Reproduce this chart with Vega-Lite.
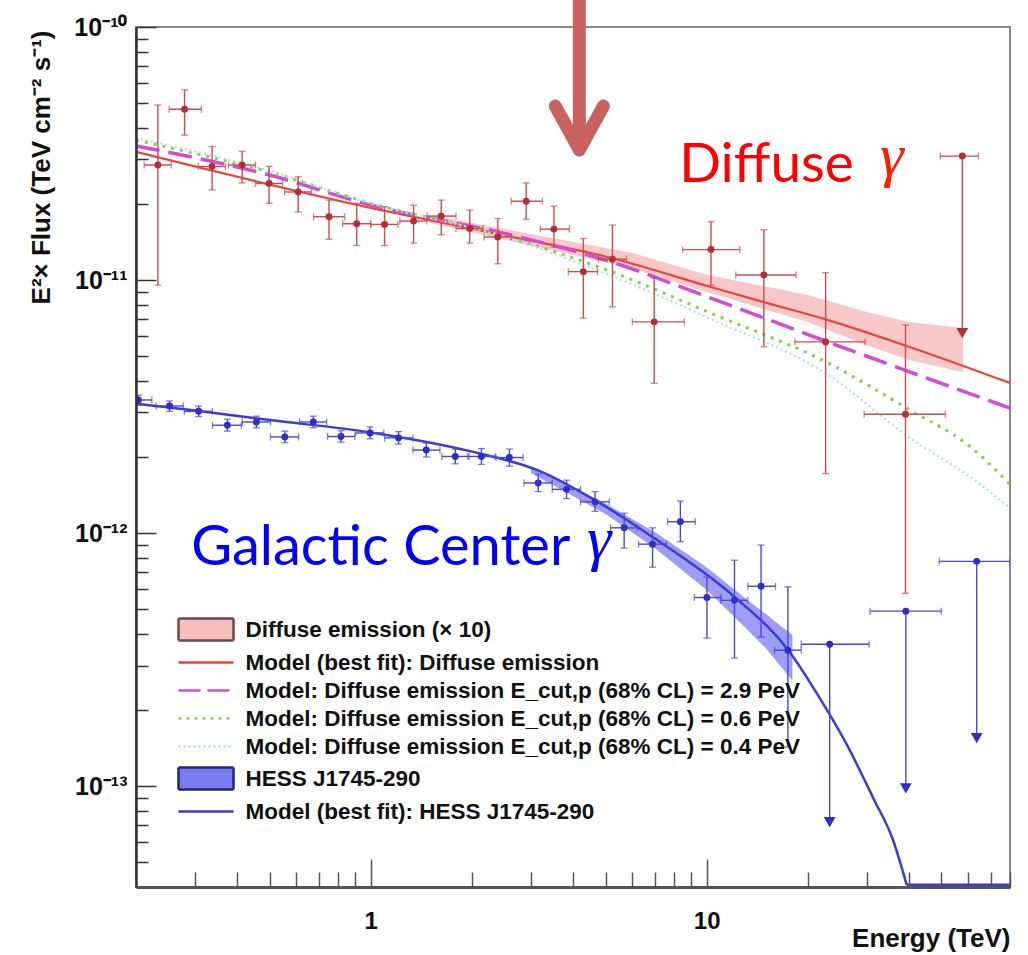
{
  "$schema": "https://vega.github.io/schema/vega-lite/v6.json",
  "width": 874,
  "height": 860,
  "autosize": {"type": "none"},
  "padding": {"left": 136, "top": 27, "right": 18, "bottom": 68},
  "background": "white",
  "config": {
    "view": {"stroke": "#8a8a8a", "strokeWidth": 2},
    "axis": {"grid": false},
    "font": "Liberation Sans"
  },
  "datasets": {
    "pts": [
      {"s": "d", "E": 0.2324, "El": 0.2115, "Eh": 0.2547, "F": 2.85e-11, "Fl": 9.55e-12, "Fh": 4.92e-11, "ul": false},
      {"s": "d", "E": 0.279, "El": 0.251, "Eh": 0.313, "F": 4.73e-11, "Fl": 3.74e-11, "Fh": 5.64e-11, "ul": false},
      {"s": "d", "E": 0.337, "El": 0.3066, "Eh": 0.369, "F": 2.81e-11, "Fl": 2.27e-11, "Fh": 3.37e-11, "ul": false},
      {"s": "d", "E": 0.414, "El": 0.3768, "Eh": 0.4537, "F": 2.85e-11, "Fl": 2.42e-11, "Fh": 3.23e-11, "ul": false},
      {"s": "d", "E": 0.498, "El": 0.4537, "Eh": 0.546, "F": 2.41e-11, "Fl": 2.01e-11, "Fh": 2.81e-11, "ul": false},
      {"s": "d", "E": 0.608, "El": 0.5538, "Eh": 0.6667, "F": 2.23e-11, "Fl": 1.86e-11, "Fh": 2.56e-11, "ul": false},
      {"s": "d", "E": 0.751, "El": 0.676, "Eh": 0.8364, "F": 1.78e-11, "Fl": 1.45e-11, "Fh": 2.07e-11, "ul": false},
      {"s": "d", "E": 0.908, "El": 0.825, "Eh": 1.0, "F": 1.67e-11, "Fl": 1.37e-11, "Fh": 2.01e-11, "ul": false},
      {"s": "d", "E": 1.099, "El": 1.0, "Eh": 1.204, "F": 1.66e-11, "Fl": 1.37e-11, "Fh": 1.95e-11, "ul": false},
      {"s": "d", "E": 1.341, "El": 1.22, "Eh": 1.47, "F": 1.71e-11, "Fl": 1.4e-11, "Fh": 1.98e-11, "ul": false},
      {"s": "d", "E": 1.621, "El": 1.47, "Eh": 1.794, "F": 1.79e-11, "Fl": 1.51e-11, "Fh": 2.07e-11, "ul": false},
      {"s": "d", "E": 1.97, "El": 1.794, "Eh": 2.16, "F": 1.6e-11, "Fl": 1.4e-11, "Fh": 1.89e-11, "ul": false},
      {"s": "d", "E": 2.389, "El": 2.175, "Eh": 2.617, "F": 1.48e-11, "Fl": 1.16e-11, "Fh": 1.75e-11, "ul": false},
      {"s": "d", "E": 2.902, "El": 2.617, "Eh": 3.24, "F": 2.05e-11, "Fl": 1.74e-11, "Fh": 2.42e-11, "ul": false},
      {"s": "d", "E": 3.51, "El": 3.195, "Eh": 3.9, "F": 1.59e-11, "Fl": 1.35e-11, "Fh": 1.96e-11, "ul": false},
      {"s": "d", "E": 4.294, "El": 3.873, "Eh": 4.73, "F": 1.08e-11, "Fl": 7.08e-12, "Fh": 1.46e-11, "ul": false},
      {"s": "d", "E": 5.242, "El": 4.76, "Eh": 5.77, "F": 1.21e-11, "Fl": 7.84e-12, "Fh": 1.65e-11, "ul": false},
      {"s": "d", "E": 6.98, "El": 6.01, "Eh": 8.58, "F": 6.84e-12, "Fl": 3.91e-12, "Fh": 1.02e-11, "ul": false},
      {"s": "d", "E": 10.3, "El": 8.48, "Eh": 12.55, "F": 1.32e-11, "Fl": 9.55e-12, "Fh": 1.7e-11, "ul": false},
      {"s": "d", "E": 14.8, "El": 12.21, "Eh": 18.44, "F": 1.047e-11, "Fl": 5.45e-12, "Fh": 1.58e-11, "ul": false},
      {"s": "d", "E": 22.6, "El": 18.31, "Eh": 29.62, "F": 5.7e-12, "Fl": 1.72e-12, "Fh": 1.07e-11, "ul": false},
      {"s": "d", "E": 39.08, "El": 29.42, "Eh": 51.33, "F": 2.95e-12, "Fl": 5.79e-13, "Fh": 6.64e-12, "ul": false},
      {"s": "d", "E": 57.7, "El": 49.6, "Eh": 64.4, "F": 3.09e-11, "Fl": 6.17e-12, "Fh": 3.09e-11, "ul": true},
      {"s": "g", "E": 0.2034, "El": 0.2, "Eh": 0.223, "F": 3.36e-12, "Fl": 3.21e-12, "Fh": 3.51e-12, "ul": false},
      {"s": "g", "E": 0.2518, "El": 0.2298, "Eh": 0.2765, "F": 3.18e-12, "Fl": 3.03e-12, "Fh": 3.33e-12, "ul": false},
      {"s": "g", "E": 0.3073, "El": 0.2785, "Eh": 0.3377, "F": 3.03e-12, "Fl": 2.89e-12, "Fh": 3.18e-12, "ul": false},
      {"s": "g", "E": 0.3742, "El": 0.3377, "Eh": 0.412, "F": 2.67e-12, "Fl": 2.53e-12, "Fh": 2.82e-12, "ul": false},
      {"s": "g", "E": 0.4567, "El": 0.4146, "Eh": 0.503, "F": 2.75e-12, "Fl": 2.61e-12, "Fh": 2.9e-12, "ul": false},
      {"s": "g", "E": 0.5548, "El": 0.503, "Eh": 0.6097, "F": 2.4e-12, "Fl": 2.28e-12, "Fh": 2.53e-12, "ul": false},
      {"s": "g", "E": 0.6745, "El": 0.614, "Eh": 0.739, "F": 2.75e-12, "Fl": 2.61e-12, "Fh": 2.9e-12, "ul": false},
      {"s": "g", "E": 0.8154, "El": 0.744, "Eh": 0.896, "F": 2.41e-12, "Fl": 2.29e-12, "Fh": 2.54e-12, "ul": false},
      {"s": "g", "E": 0.995, "El": 0.902, "Eh": 1.094, "F": 2.49e-12, "Fl": 2.36e-12, "Fh": 2.63e-12, "ul": false},
      {"s": "g", "E": 1.21, "El": 1.1, "Eh": 1.335, "F": 2.38e-12, "Fl": 2.25e-12, "Fh": 2.52e-12, "ul": false},
      {"s": "g", "E": 1.463, "El": 1.335, "Eh": 1.607, "F": 2.13e-12, "Fl": 2.0e-12, "Fh": 2.27e-12, "ul": false},
      {"s": "g", "E": 1.785, "El": 1.629, "Eh": 1.961, "F": 2.01e-12, "Fl": 1.88e-12, "Fh": 2.15e-12, "ul": false},
      {"s": "g", "E": 2.135, "El": 1.947, "Eh": 2.345, "F": 2.01e-12, "Fl": 1.87e-12, "Fh": 2.16e-12, "ul": false},
      {"s": "g", "E": 2.587, "El": 2.36, "Eh": 2.842, "F": 1.99e-12, "Fl": 1.84e-12, "Fh": 2.15e-12, "ul": false},
      {"s": "g", "E": 3.151, "El": 2.86, "Eh": 3.47, "F": 1.58e-12, "Fl": 1.46e-12, "Fh": 1.71e-12, "ul": false},
      {"s": "g", "E": 3.828, "El": 3.47, "Eh": 4.21, "F": 1.49e-12, "Fl": 1.37e-12, "Fh": 1.62e-12, "ul": false},
      {"s": "g", "E": 4.654, "El": 4.21, "Eh": 5.13, "F": 1.33e-12, "Fl": 1.22e-12, "Fh": 1.46e-12, "ul": false},
      {"s": "g", "E": 5.68, "El": 5.17, "Eh": 6.22, "F": 1.05e-12, "Fl": 8.73e-13, "Fh": 1.2e-12, "ul": false},
      {"s": "g", "E": 6.9, "El": 6.27, "Eh": 7.6, "F": 9.05e-13, "Fl": 7.34e-13, "Fh": 1.05e-12, "ul": false},
      {"s": "g", "E": 8.35, "El": 7.65, "Eh": 9.25, "F": 1.11e-12, "Fl": 9.25e-13, "Fh": 1.34e-12, "ul": false},
      {"s": "g", "E": 10.02, "El": 9.19, "Eh": 11.03, "F": 5.57e-13, "Fl": 3.85e-13, "Fh": 6.72e-13, "ul": false},
      {"s": "g", "E": 12.1, "El": 11.03, "Eh": 13.26, "F": 5.43e-13, "Fl": 3.21e-13, "Fh": 7.82e-13, "ul": false},
      {"s": "g", "E": 14.52, "El": 13.26, "Eh": 16.03, "F": 6.17e-13, "Fl": 3.89e-13, "Fh": 8.98e-13, "ul": false},
      {"s": "g", "E": 17.45, "El": 15.92, "Eh": 19.12, "F": 3.45e-13, "Fl": 1.43e-13, "Fh": 6.14e-13, "ul": false},
      {"s": "g", "E": 23.24, "El": 19.12, "Eh": 30.45, "F": 3.64e-13, "Fl": 7.21e-14, "Fh": 3.64e-13, "ul": true},
      {"s": "g", "E": 39.18, "El": 30.66, "Eh": 49.94, "F": 4.92e-13, "Fl": 9.82e-14, "Fh": 4.92e-13, "ul": true},
      {"s": "g", "E": 63.68, "El": 49.26, "Eh": 80, "F": 7.74e-13, "Fl": 1.55e-13, "Fh": 7.74e-13, "ul": true}
    ],
    "models": [
      {"k": "bf", "series": "Model (best fit): Diffuse emission", "E": 0.2, "F": 3.21e-11},
      {"k": "bf", "series": "Model (best fit): Diffuse emission", "E": 1, "F": 1.93e-11},
      {"k": "bf", "series": "Model (best fit): Diffuse emission", "E": 2.46, "F": 1.51e-11},
      {"k": "bf", "series": "Model (best fit): Diffuse emission", "E": 5.24, "F": 1.22e-11},
      {"k": "bf", "series": "Model (best fit): Diffuse emission", "E": 10.1, "F": 9.46e-12},
      {"k": "bf", "series": "Model (best fit): Diffuse emission", "E": 14.8, "F": 8.18e-12},
      {"k": "bf", "series": "Model (best fit): Diffuse emission", "E": 23, "F": 6.95e-12},
      {"k": "bf", "series": "Model (best fit): Diffuse emission", "E": 40.4, "F": 5.43e-12},
      {"k": "bf", "series": "Model (best fit): Diffuse emission", "E": 80, "F": 3.92e-12},
      {"k": "c29", "series": "Model: Diffuse emission E_cut,p (68% CL) = 2.9 PeV", "E": 0.2, "F": 3.39e-11},
      {"k": "c29", "series": "Model: Diffuse emission E_cut,p (68% CL) = 2.9 PeV", "E": 0.5, "F": 2.6e-11},
      {"k": "c29", "series": "Model: Diffuse emission E_cut,p (68% CL) = 2.9 PeV", "E": 1, "F": 1.98e-11},
      {"k": "c29", "series": "Model: Diffuse emission E_cut,p (68% CL) = 2.9 PeV", "E": 2.5, "F": 1.53e-11},
      {"k": "c29", "series": "Model: Diffuse emission E_cut,p (68% CL) = 2.9 PeV", "E": 5.2, "F": 1.18e-11},
      {"k": "c29", "series": "Model: Diffuse emission E_cut,p (68% CL) = 2.9 PeV", "E": 10.1, "F": 8.57e-12},
      {"k": "c29", "series": "Model: Diffuse emission E_cut,p (68% CL) = 2.9 PeV", "E": 23, "F": 5.69e-12},
      {"k": "c29", "series": "Model: Diffuse emission E_cut,p (68% CL) = 2.9 PeV", "E": 40.4, "F": 4.33e-12},
      {"k": "c29", "series": "Model: Diffuse emission E_cut,p (68% CL) = 2.9 PeV", "E": 80, "F": 3.12e-12},
      {"k": "c06", "series": "Model: Diffuse emission E_cut,p (68% CL) = 0.6 PeV", "E": 0.2, "F": 3.57e-11},
      {"k": "c06", "series": "Model: Diffuse emission E_cut,p (68% CL) = 0.6 PeV", "E": 0.5, "F": 2.67e-11},
      {"k": "c06", "series": "Model: Diffuse emission E_cut,p (68% CL) = 0.6 PeV", "E": 1, "F": 2.01e-11},
      {"k": "c06", "series": "Model: Diffuse emission E_cut,p (68% CL) = 0.6 PeV", "E": 2.5, "F": 1.49e-11},
      {"k": "c06", "series": "Model: Diffuse emission E_cut,p (68% CL) = 0.6 PeV", "E": 5.2, "F": 1.08e-11},
      {"k": "c06", "series": "Model: Diffuse emission E_cut,p (68% CL) = 0.6 PeV", "E": 10.1, "F": 7.48e-12},
      {"k": "c06", "series": "Model: Diffuse emission E_cut,p (68% CL) = 0.6 PeV", "E": 23, "F": 4.7e-12},
      {"k": "c06", "series": "Model: Diffuse emission E_cut,p (68% CL) = 0.6 PeV", "E": 40.4, "F": 3.06e-12},
      {"k": "c06", "series": "Model: Diffuse emission E_cut,p (68% CL) = 0.6 PeV", "E": 60, "F": 2.23e-12},
      {"k": "c06", "series": "Model: Diffuse emission E_cut,p (68% CL) = 0.6 PeV", "E": 80, "F": 1.56e-12},
      {"k": "c04", "series": "Model: Diffuse emission E_cut,p (68% CL) = 0.4 PeV", "E": 0.2, "F": 3.65e-11},
      {"k": "c04", "series": "Model: Diffuse emission E_cut,p (68% CL) = 0.4 PeV", "E": 0.5, "F": 2.7e-11},
      {"k": "c04", "series": "Model: Diffuse emission E_cut,p (68% CL) = 0.4 PeV", "E": 1, "F": 2.01e-11},
      {"k": "c04", "series": "Model: Diffuse emission E_cut,p (68% CL) = 0.4 PeV", "E": 2.5, "F": 1.48e-11},
      {"k": "c04", "series": "Model: Diffuse emission E_cut,p (68% CL) = 0.4 PeV", "E": 5.2, "F": 1.04e-11},
      {"k": "c04", "series": "Model: Diffuse emission E_cut,p (68% CL) = 0.4 PeV", "E": 10.1, "F": 7.1e-12},
      {"k": "c04", "series": "Model: Diffuse emission E_cut,p (68% CL) = 0.4 PeV", "E": 23, "F": 4.22e-12},
      {"k": "c04", "series": "Model: Diffuse emission E_cut,p (68% CL) = 0.4 PeV", "E": 40.4, "F": 2.37e-12},
      {"k": "c04", "series": "Model: Diffuse emission E_cut,p (68% CL) = 0.4 PeV", "E": 60, "F": 1.69e-12},
      {"k": "c04", "series": "Model: Diffuse emission E_cut,p (68% CL) = 0.4 PeV", "E": 80, "F": 1.26e-12},
      {"k": "gc", "series": "Model (best fit): HESS J1745-290", "E": 0.2, "F": 3.25e-12},
      {"k": "gc", "series": "Model (best fit): HESS J1745-290", "E": 0.3, "F": 3.05e-12},
      {"k": "gc", "series": "Model (best fit): HESS J1745-290", "E": 0.5, "F": 2.8e-12},
      {"k": "gc", "series": "Model (best fit): HESS J1745-290", "E": 1, "F": 2.5e-12},
      {"k": "gc", "series": "Model (best fit): HESS J1745-290", "E": 2, "F": 2.1e-12},
      {"k": "gc", "series": "Model (best fit): HESS J1745-290", "E": 3.15, "F": 1.77e-12},
      {"k": "gc", "series": "Model (best fit): HESS J1745-290", "E": 4.65, "F": 1.35e-12},
      {"k": "gc", "series": "Model (best fit): HESS J1745-290", "E": 6.9, "F": 9.66e-13},
      {"k": "gc", "series": "Model (best fit): HESS J1745-290", "E": 12.1, "F": 5.6e-13},
      {"k": "gc", "series": "Model (best fit): HESS J1745-290", "E": 17.5, "F": 3.45e-13},
      {"k": "gc", "series": "Model (best fit): HESS J1745-290", "E": 21.9, "F": 2.19e-13},
      {"k": "gc", "series": "Model (best fit): HESS J1745-290", "E": 26.0, "F": 1.48e-13},
      {"k": "gc", "series": "Model (best fit): HESS J1745-290", "E": 31.3, "F": 9.0e-14},
      {"k": "gc", "series": "Model (best fit): HESS J1745-290", "E": 35.9, "F": 6.12e-14},
      {"k": "gc", "series": "Model (best fit): HESS J1745-290", "E": 39.4, "F": 4.08e-14},
      {"k": "gcb", "series": "Model (best fit): HESS J1745-290", "E": 39.4, "F": 4.08e-14},
      {"k": "gcb", "series": "Model (best fit): HESS J1745-290", "E": 80, "F": 4.08e-14}
    ],
    "diffBand": [
      {"E": 1.5, "lo": 1.68e-11, "hi": 1.81e-11},
      {"E": 3, "lo": 1.37e-11, "hi": 1.52e-11},
      {"E": 6, "lo": 1.11e-11, "hi": 1.28e-11},
      {"E": 10, "lo": 8.97e-12, "hi": 1.05e-11},
      {"E": 20, "lo": 6.83e-12, "hi": 8.73e-12},
      {"E": 30, "lo": 5.53e-12, "hi": 7.48e-12},
      {"E": 40, "lo": 4.83e-12, "hi": 6.83e-12},
      {"E": 58, "lo": 4.32e-12, "hi": 6.46e-12}
    ],
    "gcBand": [
      {"E": 3, "lo": 1.73e-12, "hi": 1.82e-12},
      {"E": 5, "lo": 1.19e-12, "hi": 1.31e-12},
      {"E": 7, "lo": 8.73e-13, "hi": 1.01e-12},
      {"E": 10, "lo": 5.96e-13, "hi": 7.34e-13},
      {"E": 13, "lo": 4.25e-13, "hi": 5.54e-13},
      {"E": 15, "lo": 3.51e-13, "hi": 4.79e-13},
      {"E": 18, "lo": 2.62e-13, "hi": 3.96e-13}
    ]
  },
  "resolve": {"axis": {"x": "independent", "y": "independent"}},
  "layer": [
    {
      "data": {"name": "diffBand"},
      "mark": {"type": "area", "color": "#f4a3a3", "opacity": 0.6, "clip": true},
      "encoding": {
        "x": {"field": "E", "type": "quantitative", "scale": {"type": "log", "domain": [0.2, 80], "nice": false},
          "axis": {"orient": "bottom", "values": [1, 10], "labelExpr": "datum.value > 5 ? '10' : '1'", "ticks": false, "domain": true, "domainColor": "#555", "domainWidth": 3, "labelFont": "Liberation Sans", "labelFontWeight": "bold", "labelFontSize": 24, "labelColor": "#111", "labelPadding": 22, "labelFlush": false, "labelOverlap": false, "title": "Energy (TeV)", "titleFont": "Liberation Sans", "titleFontWeight": "bold", "titleFontSize": 26, "titleColor": "#111", "titleAlign": "right", "titleAnchor": "end", "titleX": 874, "titleY": 59, "titleBaseline": "alphabetic", "zindex": 1}},
        "y": {"field": "lo", "type": "quantitative", "scale": {"type": "log", "domain": [4e-14, 1e-10], "nice": false},
          "axis": {"orient": "left", "values": [1e-13, 1e-12, 1e-11, 1e-10], "labelExpr": "datum.value > 5e-11 ? '10⁻¹⁰' : datum.value > 5e-12 ? '10⁻¹¹' : datum.value > 5e-13 ? '10⁻¹²' : '10⁻¹³'", "ticks": false, "domain": true, "domainColor": "#333", "domainWidth": 2.5, "labelFont": "Liberation Sans", "labelFontWeight": "bold", "labelFontSize": 25, "labelColor": "#111", "labelPadding": 9, "labelBaseline": "middle", "labelFlush": false, "labelOverlap": false, "title": "E²× Flux (TeV cm⁻² s⁻¹)", "titleFont": "Liberation Sans", "titleFontWeight": "bold", "titleFontSize": 26, "titleColor": "#111", "titleAngle": 270, "titleAlign": "right", "titleBaseline": "middle", "titleX": -95, "titleY": 3, "zindex": 1}},
        "y2": {"field": "hi"}
      }
    },
    {
      "data": {"name": "gcBand"},
      "mark": {"type": "area", "color": "#5c5cee", "opacity": 0.6, "clip": true},
      "encoding": {
        "x": {"field": "E", "type": "quantitative", "scale": {"type": "log", "domain": [0.2, 80], "nice": false},
          "axis": {"orient": "bottom", "values": [1, 10], "labels": false, "domain": false, "ticks": true, "tickSize": 28, "tickWidth": 1.5, "tickColor": "#555", "offset": -28, "title": null, "zindex": 1}},
        "y": {"field": "lo", "type": "quantitative", "scale": {"type": "log", "domain": [4e-14, 1e-10], "nice": false},
          "axis": {"orient": "left", "values": [1e-13, 1e-12, 1e-11, 1e-10], "labels": false, "domain": false, "ticks": true, "tickSize": 20, "tickWidth": 1.5, "tickColor": "#333", "offset": -20, "title": null, "zindex": 1}},
        "y2": {"field": "hi"}
      }
    },
    {
      "data": {"name": "models"},
      "transform": [{"filter": "datum.k === 'bf'"}],
      "mark": {"type": "line", "color": "#e3463f", "strokeWidth": 2.2, "interpolate": "monotone", "clip": true},
      "encoding": {
        "x": {"field": "E", "type": "quantitative", "scale": {"type": "log", "domain": [0.2, 80], "nice": false},
          "axis": {"orient": "bottom", "values": [0.3, 0.4, 0.5, 0.6, 0.7, 0.8, 0.9, 2, 3, 4, 5, 6, 7, 8, 9, 20, 30, 40, 50, 60, 70, 80], "labels": false, "domain": false, "ticks": true, "tickSize": 15, "tickWidth": 1.5, "tickColor": "#555", "offset": -15, "title": null, "zindex": 1}},
        "y": {"field": "F", "type": "quantitative", "scale": {"type": "log", "domain": [4e-14, 1e-10], "nice": false},
          "axis": {"orient": "left", "values": [5e-14, 6e-14, 7e-14, 8e-14, 9e-14, 2e-13, 3e-13, 4e-13, 5e-13, 6e-13, 7e-13, 8e-13, 9e-13, 2e-12, 3e-12, 4e-12, 5e-12, 6e-12, 7e-12, 8e-12, 9e-12, 2e-11, 3e-11, 4e-11, 5e-11, 6e-11, 7e-11, 8e-11, 9e-11], "labels": false, "domain": false, "ticks": true, "tickSize": 12, "tickWidth": 1.5, "tickColor": "#333", "offset": -12, "title": null, "zindex": 1}}
      }
    },
    {
      "data": {"name": "models"},
      "transform": [{"filter": "datum.k === 'c29'"}],
      "mark": {"type": "line", "color": "#d64ad6", "strokeWidth": 3.5, "strokeDash": [24, 9], "interpolate": "monotone", "clip": true},
      "encoding": {
        "x": {"field": "E", "type": "quantitative", "scale": {"type": "log", "domain": [0.2, 80], "nice": false}, "axis": null},
        "y": {"field": "F", "type": "quantitative", "scale": {"type": "log", "domain": [4e-14, 1e-10], "nice": false}, "axis": null}
      }
    },
    {
      "data": {"name": "models"},
      "transform": [{"filter": "datum.k === 'c06'"}],
      "mark": {"type": "line", "color": "#86d048", "strokeWidth": 3, "strokeDash": [3, 6], "interpolate": "monotone", "clip": true},
      "encoding": {
        "x": {"field": "E", "type": "quantitative", "scale": {"type": "log", "domain": [0.2, 80], "nice": false}, "axis": null},
        "y": {"field": "F", "type": "quantitative", "scale": {"type": "log", "domain": [4e-14, 1e-10], "nice": false}, "axis": null}
      }
    },
    {
      "data": {"name": "models"},
      "transform": [{"filter": "datum.k === 'c04'"}],
      "mark": {"type": "line", "color": "#a6e2f0", "strokeWidth": 2.2, "strokeDash": [2, 3], "interpolate": "monotone", "clip": true},
      "encoding": {
        "x": {"field": "E", "type": "quantitative", "scale": {"type": "log", "domain": [0.2, 80], "nice": false}, "axis": null},
        "y": {"field": "F", "type": "quantitative", "scale": {"type": "log", "domain": [4e-14, 1e-10], "nice": false}, "axis": null}
      }
    },
    {
      "data": {"name": "models"},
      "transform": [{"filter": "datum.k === 'gc'"}],
      "mark": {"type": "line", "color": "#3b3bd6", "strokeWidth": 2.5, "interpolate": "monotone", "clip": true},
      "encoding": {
        "x": {"field": "E", "type": "quantitative", "scale": {"type": "log", "domain": [0.2, 80], "nice": false}, "axis": null},
        "y": {"field": "F", "type": "quantitative", "scale": {"type": "log", "domain": [4e-14, 1e-10], "nice": false}, "axis": null}
      }
    },
    {
      "data": {"name": "models"},
      "transform": [{"filter": "datum.k === 'gcb'"}],
      "mark": {"type": "line", "color": "#3b3bd6", "strokeWidth": 2.5, "clip": true},
      "encoding": {
        "x": {"field": "E", "type": "quantitative", "scale": {"type": "log", "domain": [0.2, 80], "nice": false}, "axis": null},
        "y": {"field": "F", "type": "quantitative", "scale": {"type": "log", "domain": [4e-14, 1e-10], "nice": false}, "axis": null}
      }
    },
    {
      "data": {"name": "pts"},
      "mark": {"type": "rule", "strokeWidth": 1.4, "clip": true},
      "encoding": {
        "x": {"field": "El", "type": "quantitative", "scale": {"type": "log", "domain": [0.2, 80], "nice": false}, "axis": null},
        "x2": {"field": "Eh"},
        "y": {"field": "F", "type": "quantitative", "scale": {"type": "log", "domain": [4e-14, 1e-10], "nice": false}, "axis": null},
        "color": {"field": "s", "type": "nominal", "scale": {"domain": ["d", "g"], "range": ["#cc4a50", "#4848d6"]}, "legend": null}
      }
    },
    {
      "data": {"name": "pts"},
      "mark": {"type": "rule", "strokeWidth": 1.4, "clip": true},
      "encoding": {
        "x": {"field": "E", "type": "quantitative", "scale": {"type": "log", "domain": [0.2, 80], "nice": false}, "axis": null},
        "y": {"field": "Fl", "type": "quantitative", "scale": {"type": "log", "domain": [4e-14, 1e-10], "nice": false}, "axis": null},
        "y2": {"field": "Fh"},
        "color": {"field": "s", "type": "nominal", "legend": null}
      }
    },
    {
      "data": {"name": "pts"},
      "transform": [{"filter": "!datum.ul"}],
      "mark": {"type": "tick", "orient": "horizontal", "size": 7, "thickness": 1.3, "clip": true},
      "encoding": {
        "x": {"field": "E", "type": "quantitative", "scale": {"type": "log", "domain": [0.2, 80], "nice": false}, "axis": null},
        "y": {"field": "Fl", "type": "quantitative", "scale": {"type": "log", "domain": [4e-14, 1e-10], "nice": false}, "axis": null},
        "color": {"field": "s", "type": "nominal", "legend": null}
      }
    },
    {
      "data": {"name": "pts"},
      "transform": [{"filter": "!datum.ul"}],
      "mark": {"type": "tick", "orient": "horizontal", "size": 7, "thickness": 1.3, "clip": true},
      "encoding": {
        "x": {"field": "E", "type": "quantitative", "scale": {"type": "log", "domain": [0.2, 80], "nice": false}, "axis": null},
        "y": {"field": "Fh", "type": "quantitative", "scale": {"type": "log", "domain": [4e-14, 1e-10], "nice": false}, "axis": null},
        "color": {"field": "s", "type": "nominal", "legend": null}
      }
    },
    {
      "data": {"name": "pts"},
      "mark": {"type": "tick", "orient": "vertical", "size": 7, "thickness": 1.3, "clip": true},
      "encoding": {
        "x": {"field": "El", "type": "quantitative", "scale": {"type": "log", "domain": [0.2, 80], "nice": false}, "axis": null},
        "y": {"field": "F", "type": "quantitative", "scale": {"type": "log", "domain": [4e-14, 1e-10], "nice": false}, "axis": null},
        "color": {"field": "s", "type": "nominal", "legend": null}
      }
    },
    {
      "data": {"name": "pts"},
      "mark": {"type": "tick", "orient": "vertical", "size": 7, "thickness": 1.3, "clip": true},
      "encoding": {
        "x": {"field": "Eh", "type": "quantitative", "scale": {"type": "log", "domain": [0.2, 80], "nice": false}, "axis": null},
        "y": {"field": "F", "type": "quantitative", "scale": {"type": "log", "domain": [4e-14, 1e-10], "nice": false}, "axis": null},
        "color": {"field": "s", "type": "nominal", "legend": null}
      }
    },
    {
      "data": {"name": "pts"},
      "transform": [{"filter": "datum.s === 'd'"}],
      "mark": {"type": "point", "shape": "circle", "filled": true, "size": 48, "opacity": 1, "color": "#b52e36", "clip": true},
      "encoding": {
        "x": {"field": "E", "type": "quantitative", "scale": {"type": "log", "domain": [0.2, 80], "nice": false}, "axis": null},
        "y": {"field": "F", "type": "quantitative", "scale": {"type": "log", "domain": [4e-14, 1e-10], "nice": false}, "axis": null}
      }
    },
    {
      "data": {"name": "pts"},
      "transform": [{"filter": "datum.s === 'g'"}],
      "mark": {"type": "point", "shape": "circle", "filled": true, "size": 48, "opacity": 1, "color": "#2e2ec8", "clip": true},
      "encoding": {
        "x": {"field": "E", "type": "quantitative", "scale": {"type": "log", "domain": [0.2, 80], "nice": false}, "axis": null},
        "y": {"field": "F", "type": "quantitative", "scale": {"type": "log", "domain": [4e-14, 1e-10], "nice": false}, "axis": null}
      }
    },
    {
      "data": {"name": "pts"},
      "transform": [{"filter": "datum.ul && datum.s === 'd'"}],
      "mark": {"type": "point", "shape": "triangle-down", "filled": true, "size": 140, "opacity": 1, "color": "#b52e36", "clip": true},
      "encoding": {
        "x": {"field": "E", "type": "quantitative", "scale": {"type": "log", "domain": [0.2, 80], "nice": false}, "axis": null},
        "y": {"field": "Fl", "type": "quantitative", "scale": {"type": "log", "domain": [4e-14, 1e-10], "nice": false}, "axis": null}
      }
    },
    {
      "data": {"name": "pts"},
      "transform": [{"filter": "datum.ul && datum.s === 'g'"}],
      "mark": {"type": "point", "shape": "triangle-down", "filled": true, "size": 140, "opacity": 1, "color": "#2e2ec8", "clip": true},
      "encoding": {
        "x": {"field": "E", "type": "quantitative", "scale": {"type": "log", "domain": [0.2, 80], "nice": false}, "axis": null},
        "y": {"field": "Fl", "type": "quantitative", "scale": {"type": "log", "domain": [4e-14, 1e-10], "nice": false}, "axis": null}
      }
    },
    {
      "data": {"name": "models"},
      "transform": [{"filter": "false"}],
      "mark": {"type": "point", "filled": true, "clip": true},
      "encoding": {
        "x": {"field": "E", "type": "quantitative", "scale": {"type": "log", "domain": [0.2, 80], "nice": false}, "axis": null},
        "y": {"field": "F", "type": "quantitative", "scale": {"type": "log", "domain": [4e-14, 1e-10], "nice": false}, "axis": null},
        "stroke": {"field": "series", "type": "nominal",
          "scale": {"domain": ["Diffuse emission (× 10)", "Model (best fit): Diffuse emission", "Model: Diffuse emission E_cut,p (68% CL) = 2.9 PeV", "Model: Diffuse emission E_cut,p (68% CL) = 0.6 PeV", "Model: Diffuse emission E_cut,p (68% CL) = 0.4 PeV", "HESS J1745-290", "Model (best fit): HESS J1745-290"],
            "range": ["#6e4848", "#e3463f", "#d64ad6", "#86d048", "#a6e2f0", "#26266e", "#3b3bd6"]},
          "legend": {"title": null, "orient": "none", "direction": "vertical", "legendX": 41, "legendY": 590, "padding": 0, "offset": 0, "symbolSize": 484, "symbolOffset": 16.5, "labelOffset": 27, "rowPadding": 4, "labelFont": "Liberation Sans", "labelFontWeight": "bold", "labelFontSize": 22.5, "labelColor": "#111", "labelLimit": 900, "symbolStrokeWidth": 2.5, "symbolOpacity": 1}},
        "fill": {"field": "series", "type": "nominal",
          "scale": {"domain": ["Diffuse emission (× 10)", "Model (best fit): Diffuse emission", "Model: Diffuse emission E_cut,p (68% CL) = 2.9 PeV", "Model: Diffuse emission E_cut,p (68% CL) = 0.6 PeV", "Model: Diffuse emission E_cut,p (68% CL) = 0.4 PeV", "HESS J1745-290", "Model (best fit): HESS J1745-290"],
            "range": ["#f6bdbd", "transparent", "transparent", "transparent", "transparent", "#7a7af2", "transparent"]},
          "legend": {"title": null, "orient": "none", "direction": "vertical", "legendX": 41, "legendY": 590, "padding": 0, "offset": 0, "symbolSize": 484, "symbolOffset": 16.5, "labelOffset": 27, "rowPadding": 4, "labelFont": "Liberation Sans", "labelFontWeight": "bold", "labelFontSize": 22.5, "labelColor": "#111", "labelLimit": 900, "symbolStrokeWidth": 2.5, "symbolOpacity": 1}},
        "shape": {"field": "series", "type": "nominal",
          "scale": {"domain": ["Diffuse emission (× 10)", "Model (best fit): Diffuse emission", "Model: Diffuse emission E_cut,p (68% CL) = 2.9 PeV", "Model: Diffuse emission E_cut,p (68% CL) = 0.6 PeV", "Model: Diffuse emission E_cut,p (68% CL) = 0.4 PeV", "HESS J1745-290", "Model (best fit): HESS J1745-290"],
            "range": ["M-2.5,-1H2.5V1H-2.5Z", "M-2.5,0H2.5", "M-2.5,0H2.5", "M-2.5,0H2.5", "M-2.5,0H2.5", "M-2.5,-1H2.5V1H-2.5Z", "M-2.5,0H2.5"]},
          "legend": {"title": null, "orient": "none", "direction": "vertical", "legendX": 41, "legendY": 590, "padding": 0, "offset": 0, "symbolSize": 484, "symbolOffset": 16.5, "labelOffset": 27, "rowPadding": 4, "labelFont": "Liberation Sans", "labelFontWeight": "bold", "labelFontSize": 22.5, "labelColor": "#111", "labelLimit": 900, "symbolStrokeWidth": 2.5, "symbolOpacity": 1}},
        "strokeDash": {"field": "series", "type": "nominal",
          "scale": {"domain": ["Diffuse emission (× 10)", "Model (best fit): Diffuse emission", "Model: Diffuse emission E_cut,p (68% CL) = 2.9 PeV", "Model: Diffuse emission E_cut,p (68% CL) = 0.6 PeV", "Model: Diffuse emission E_cut,p (68% CL) = 0.4 PeV", "HESS J1745-290", "Model (best fit): HESS J1745-290"],
            "range": [[1, 0], [1, 0], [22, 7], [3, 5], [2, 3], [1, 0], [1, 0]]},
          "legend": {"title": null, "orient": "none", "direction": "vertical", "legendX": 41, "legendY": 590, "padding": 0, "offset": 0, "symbolSize": 484, "symbolOffset": 16.5, "labelOffset": 27, "rowPadding": 4, "labelFont": "Liberation Sans", "labelFontWeight": "bold", "labelFontSize": 22.5, "labelColor": "#111", "labelLimit": 900, "symbolStrokeWidth": 2.5, "symbolOpacity": 1}}
      }
    },
    {
      "data": {"values": [{}]},
      "mark": {"type": "text", "text": "Diffuse", "font": "Lato", "fontSize": 55, "color": "#ff0000", "align": "left", "baseline": "alphabetic"},
      "encoding": {
        "x": {"datum": 8.29, "type": "quantitative", "scale": {"type": "log", "domain": [0.2, 80], "nice": false}, "axis": null},
        "y": {"datum": 2.45e-11, "type": "quantitative", "scale": {"type": "log", "domain": [4e-14, 1e-10], "nice": false}, "axis": null}
      }
    },
    {
      "data": {"values": [{}]},
      "mark": {"type": "text", "text": "γ", "font": "Liberation Serif", "fontStyle": "italic", "fontSize": 60, "color": "#ff1a00", "align": "left", "baseline": "alphabetic"},
      "encoding": {
        "x": {"datum": 32.8, "type": "quantitative", "scale": {"type": "log", "domain": [0.2, 80], "nice": false}, "axis": null},
        "y": {"datum": 2.6e-11, "type": "quantitative", "scale": {"type": "log", "domain": [4e-14, 1e-10], "nice": false}, "axis": null}
      }
    },
    {
      "data": {"values": [{}]},
      "mark": {"type": "text", "text": "Galactic Center", "font": "Lato", "fontSize": 56, "color": "#0000ff", "align": "left", "baseline": "alphabetic"},
      "encoding": {
        "x": {"datum": 0.292, "type": "quantitative", "scale": {"type": "log", "domain": [0.2, 80], "nice": false}, "axis": null},
        "y": {"datum": 7.47e-13, "type": "quantitative", "scale": {"type": "log", "domain": [4e-14, 1e-10], "nice": false}, "axis": null}
      }
    },
    {
      "data": {"values": [{}]},
      "mark": {"type": "text", "text": "γ", "font": "Liberation Serif", "fontStyle": "italic", "fontSize": 62, "color": "#0000ff", "align": "left", "baseline": "alphabetic"},
      "encoding": {
        "x": {"datum": 4.4, "type": "quantitative", "scale": {"type": "log", "domain": [0.2, 80], "nice": false}, "axis": null},
        "y": {"datum": 7.9e-13, "type": "quantitative", "scale": {"type": "log", "domain": [4e-14, 1e-10], "nice": false}, "axis": null}
      }
    },
    {
      "data": {"values": [{}]},
      "mark": {"type": "rule", "color": "#c9625e", "strokeWidth": 13, "strokeCap": "round"},
      "encoding": {
        "x": {"datum": 4.178, "type": "quantitative", "scale": {"type": "log", "domain": [0.2, 80], "nice": false}, "axis": null},
        "y": {"datum": 1.3e-10, "type": "quantitative", "scale": {"type": "log", "domain": [4e-14, 1e-10], "nice": false}, "axis": null},
        "y2": {"datum": 3.5e-11}
      }
    },
    {
      "data": {"values": [{}]},
      "mark": {"type": "rule", "color": "#c9625e", "strokeWidth": 13, "strokeCap": "round"},
      "encoding": {
        "x": {"datum": 3.543, "type": "quantitative", "scale": {"type": "log", "domain": [0.2, 80], "nice": false}, "axis": null},
        "x2": {"datum": 4.178},
        "y": {"datum": 4.87e-11, "type": "quantitative", "scale": {"type": "log", "domain": [4e-14, 1e-10], "nice": false}, "axis": null},
        "y2": {"datum": 3.27e-11}
      }
    },
    {
      "data": {"values": [{}]},
      "mark": {"type": "rule", "color": "#c9625e", "strokeWidth": 13, "strokeCap": "round"},
      "encoding": {
        "x": {"datum": 4.926, "type": "quantitative", "scale": {"type": "log", "domain": [0.2, 80], "nice": false}, "axis": null},
        "x2": {"datum": 4.178},
        "y": {"datum": 4.87e-11, "type": "quantitative", "scale": {"type": "log", "domain": [4e-14, 1e-10], "nice": false}, "axis": null},
        "y2": {"datum": 3.27e-11}
      }
    }
  ]
}
